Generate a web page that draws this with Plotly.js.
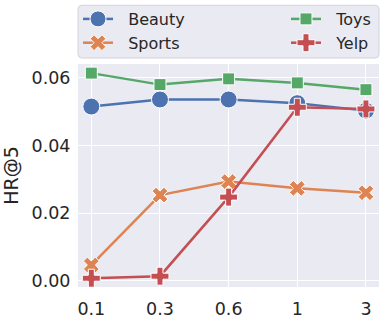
<!DOCTYPE html>
<html><head><meta charset="utf-8">
<script src="https://cdn.plot.ly/plotly-3.0.1.min.js"></script>
<style>html,body{margin:0;padding:0;background:#fff;}</style>
</head><body>
<div id="chart" style="width:386px;height:321px;"></div>
<script>
const categories = ["0.1", "0.3", "0.6", "1", "3"];
const beauty = [0.0515, 0.0536, 0.0536, 0.0525, 0.0503];
const sports = [0.0046, 0.0253, 0.0293, 0.0273, 0.0260];
const toys   = [0.0614, 0.0580, 0.0597, 0.0585, 0.0565];
const yelp   = [0.0007, 0.0013, 0.0247, 0.0513, 0.0508];
const yTickVals = [0, 0.02, 0.04, 0.06];
const yTickText = ["0.00", "0.02", "0.04", "0.06"];

const seriesNames = ["Beauty", "Sports", "Toys", "Yelp"];
const seriesData = [beauty, sports, toys, yelp];
const colors = ["#4C72B0", "#DD8452", "#55A868", "#C44E52"];
const symbols = ["circle", "x", "square", "cross"];
const sizes = [17, 14, 12, 15];
const legendIds = ["legend", "legend", "legend2", "legend2"];

const traces = seriesNames.map((n, i) => ({
  x: categories, y: seriesData[i], name: "  " + n, type: "scatter", mode: "lines+markers",
  line: {color: colors[i], width: 2.5},
  marker: {symbol: symbols[i], size: sizes[i], color: colors[i], line: {color: "#fff", width: 1}},
  legend: legendIds[i]
}));

// rounded legend frame in paper coords
const x0 = 0, x1 = 1, y0 = 1.0268, y1 = 1.2634, rx = 4/301, ry = 4/224;
const framePath = `M ${x0+rx} ${y1} L ${x1-rx} ${y1} Q ${x1} ${y1} ${x1} ${y1-ry} L ${x1} ${y0+ry} Q ${x1} ${y0} ${x1-rx} ${y0} L ${x0+rx} ${y0} Q ${x0} ${y0} ${x0} ${y0+ry} L ${x0} ${y1-ry} Q ${x0} ${y1} ${x0+rx} ${y1} Z`;

const legendCommon = {orientation: "v", yanchor: "top", xanchor: "left", y: 1.278,
  bgcolor: "rgba(0,0,0,0)", borderwidth: 0, font: {size: 16, color: "#262626"}, traceorder: "normal"};

const layout = {
  width: 386, height: 321,
  margin: {l: 78, r: 7, t: 64, b: 34, autoexpand: false},
  paper_bgcolor: "#fff", plot_bgcolor: "#EAEAF2",
  font: {family: "DejaVu Sans", size: 17, color: "#262626"},
  xaxis: {type: "category", range: [-0.194, 4.19], showgrid: true, gridcolor: "#fff", gridwidth: 1,
          zeroline: false, ticks: "outside", ticklen: 6, tickcolor: "rgba(0,0,0,0)", showline: false,
          tickfont: {size: 17.5}, automargin: false},
  yaxis: {range: [-0.0019, 0.0641], tickvals: yTickVals, ticktext: yTickText,
          showgrid: true, gridcolor: "#fff", gridwidth: 1, zeroline: false,
          ticks: "outside", ticklen: 3, tickcolor: "rgba(0,0,0,0)", showline: false,
          tickfont: {size: 17.5}, title: {text: "HR@5", font: {size: 19}, standoff: 10}, automargin: false},
  showlegend: true,
  legend: Object.assign({}, legendCommon, {x: 0}),
  legend2: Object.assign({}, legendCommon, {x: 0.691}),
  shapes: [{type: "path", xref: "paper", yref: "paper", path: framePath,
            fillcolor: "#EAEAF2", line: {color: "#D3D3DB", width: 1}, layer: "below"}]
};
Plotly.newPlot("chart", traces, layout, {displayModeBar: false, staticPlot: true});
</script>
</body></html>
